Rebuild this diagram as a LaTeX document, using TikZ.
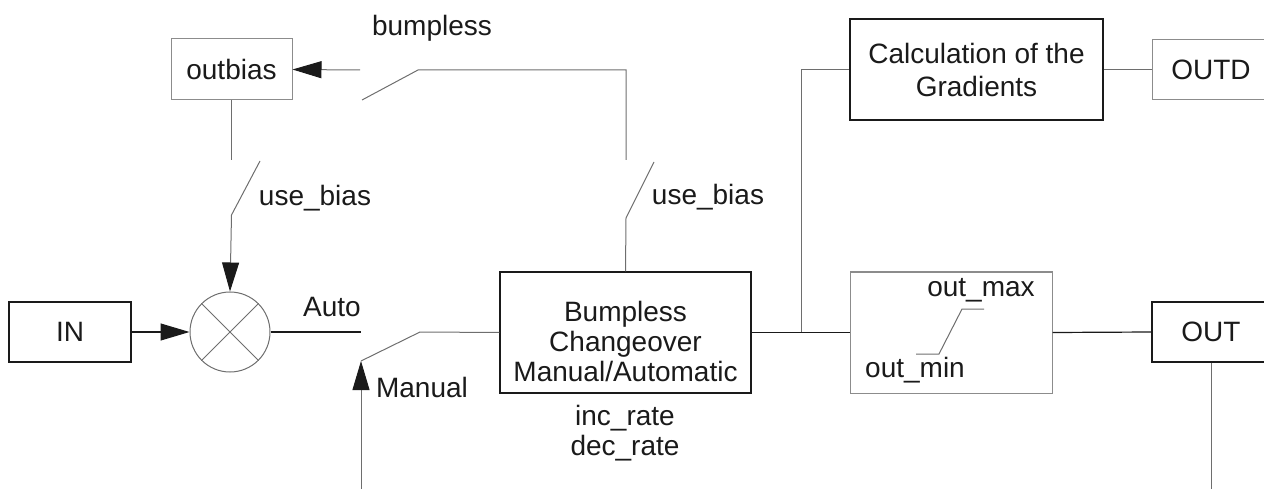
\documentclass[tikz,border=0pt]{standalone}
\usepackage{fontspec}
\setmainfont{Liberation Sans}
\usepackage{tikz}
\usetikzlibrary{positioning, arrows.meta, calc}
\definecolor{wireGray}{HTML}{6E6E6E}
\definecolor{boxGray}{HTML}{8C8C8C}
\definecolor{inkBlack}{HTML}{1A1A1A}

\begin{document}
\begin{tikzpicture}[x=1pt, y=-1pt,
  every node/.style={font=\fontsize{28}{30}\selectfont, inner sep=0pt, text=inkBlack},
  blockdark/.style={draw=inkBlack, line width=1.2pt, align=center},
  blockgray/.style={draw=boxGray, line width=1pt, align=center},
  wire/.style={draw=wireGray, line width=1pt},
  sig/.style={draw=inkBlack, line width=1.2pt},
  fedarrow/.style={-{Triangle[length=29pt, width=17pt, color=inkBlack]}}]
  \useasboundingbox (0,0) rectangle (1264,489);
  % blocks
  \node[blockdark, minimum width=122pt, minimum height=60pt] (in) at (70,332) {IN};
  \node[circle, draw=wireGray, line width=1pt, minimum size=80pt] (sum) at (230,332) {};
  \draw[wire] (sum.north west) -- (sum.south east) (sum.north east) -- (sum.south west);
  \node[blockgray, minimum width=121pt, minimum height=61pt] (outbias) at (231.5,69.5) {outbias};
  \node[blockdark, minimum width=251pt, minimum height=121pt] (bumpless) at (625.5,332.5) {};
  \node[align=center] (bumptext) at (625.5,341) {Bumpless\\Changeover\\Manual/Automatic};
  \node[align=center] (rates) at (625,433) {inc\_rate\\dec\_rate};
  \node[blockgray, minimum width=202pt, minimum height=121pt] (limiter) at (951,332.5) {};
  \node (outmax) at (981,290) {out\_max};
  \node (outmin) at (915,370) {out\_min};
  \draw[wire] (916,354) -- (939,354) -- (962,309) -- (984,309);
  \node[blockdark, minimum width=253pt, minimum height=101pt] (calc) at (976.5,69.5) {Calculation of the\\[3pt]Gradients};
  \node[blockgray, minimum width=118pt, minimum height=60pt] (outd) at (1211,69.5) {OUTD};
  \node[blockdark, minimum width=118pt, minimum height=60pt] (out) at (1211,332) {OUT};
  % labels
  \node (bumplesslbl) at (432,28) {bumpless};
  \node (usebiasleft) at (315,198) {use\_bias};
  \node (usebiasright) at (708,197) {use\_bias};
  \node (autolbl) at (332,307) {Auto};
  \node (manuallbl) at (422,387) {Manual};
  % switch points
  \coordinate (autoend) at (361,332);
  \coordinate (manualtip) at (361,361);
  \coordinate (autoblade) at (420,332);
  \coordinate (manualfoot) at (361,489);
  \coordinate (bumphinge) at (626,218);
  \coordinate (bumpblade) at (654,162);
  \coordinate (bumpcontact) at (626,160);
  \coordinate (bumpcorner) at (626,70);
  \coordinate (biashinge) at (418,70);
  \coordinate (biasblade) at (362,100);
  \coordinate (biasfeed) at (360,70);
  \coordinate (usecontact) at (231.5,160);
  \coordinate (usehinge) at (231.5,215);
  \coordinate (useblade) at (260,161);
  \coordinate (gradtap) at (801,332);
  % connectors
  \draw[sig, fedarrow] (in.east) -- (sum.west);
  \draw[sig] (sum.east) -- (autoend);
  \draw[wire, fedarrow] (manualfoot) -- (manualtip);
  \draw[wire] (manualtip) -- (autoblade) -- (bumpless.west);
  \draw[wire] (bumpless.north) -- (bumphinge) -- (bumpblade);
  \draw[wire] (bumpcontact) -- (bumpcorner) -- (biashinge) -- (biasblade);
  \draw[wire, fedarrow] (biasfeed) -- (outbias.east);
  \draw[wire] (outbias.south) -- (usecontact);
  \draw[wire] (useblade) -- (usehinge);
  \draw[wire, fedarrow] (usehinge) -- (sum.north);
  \draw[sig] (bumpless.east) -- (limiter.west);
  \draw[wire] (gradtap) -- (gradtap |- calc.west) -- (calc.west);
  \draw[sig] (limiter.east) -- (out.west);
  \draw[wire] (calc.east) -- (outd.west);
  \draw[wire] (out.south) -- (out.south |- manualfoot);
\end{tikzpicture}
\end{document}
